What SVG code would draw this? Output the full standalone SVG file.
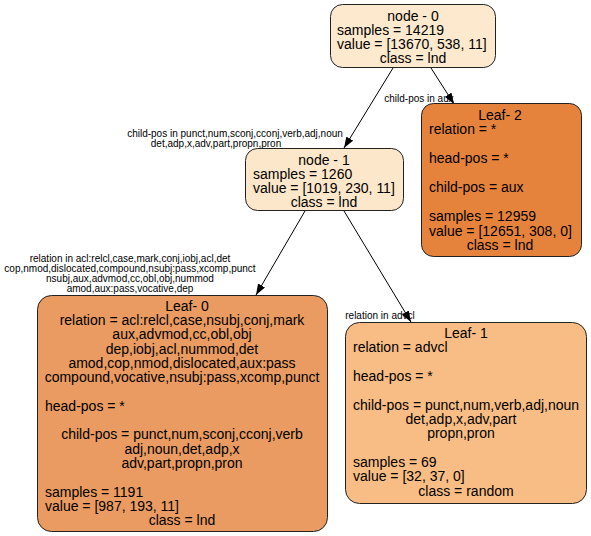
<svg xmlns="http://www.w3.org/2000/svg" width="591" height="536" viewBox="0 0 591 536">
  <style>
    .box { stroke: #222; stroke-width: 1; }
    .t { font-family: "Liberation Sans", Arial, Helvetica, sans-serif; font-size: 14px; fill: #000; }
    .c { text-anchor: middle; }
    .el { font-family: "Liberation Sans", Arial, Helvetica, sans-serif; font-size: 10px; fill: #000; text-anchor: middle; }
    .edge { stroke: #000; stroke-width: 1; fill: none; marker-end: url(#arrow); }
  </style>
  <defs>
    <marker id="arrow" markerUnits="userSpaceOnUse" markerWidth="11" markerHeight="8" refX="11" refY="4" orient="auto">
      <path d="M0,0 L11,4 L0,8 z" fill="#000"/>
    </marker>
  </defs>
  <rect width="591" height="536" fill="#fff"/>

  <g id="edges">
    <text class="el" x="235" y="137">child-pos in punct,num,sconj,cconj,verb,adj,noun</text>
    <text class="el" x="216" y="147">det,adp,x,adv,part,propn,pron</text>
    <line class="edge" x1="393" y1="68" x2="344" y2="148"/>

    <text class="el" x="419" y="102">child-pos in aux</text>
    <line class="edge" x1="431" y1="68" x2="454" y2="104"/>

    <text class="el" x="130" y="262">relation in acl:relcl,case,mark,conj,iobj,acl,det</text>
    <text class="el" x="130" y="272">cop,nmod,dislocated,compound,nsubj:pass,xcomp,punct</text>
    <text class="el" x="130" y="282">nsubj,aux,advmod,cc,obl,obj,nummod</text>
    <text class="el" x="130" y="292">amod,aux:pass,vocative,dep</text>
    <line class="edge" x1="305" y1="211" x2="256" y2="295"/>

    <text class="el" x="380" y="319">relation in advcl</text>
    <line class="edge" x1="344" y1="211" x2="411" y2="322"/>
  </g>

  <g id="node-0">
    <rect class="box" x="330.5" y="4.5" width="165" height="63" rx="12" fill="#fde9cd"/>
    <text class="t c" x="413" y="21">node - 0</text>
    <text class="t" x="337" y="35">samples = 14219</text>
    <text class="t" x="337" y="49">value = [13670, 538, 11]</text>
    <text class="t c" x="413" y="63">class = lnd</text>
  </g>

  <g id="node-1">
    <rect class="box" x="245.5" y="148.5" width="158" height="62" rx="12" fill="#fde7ca"/>
    <text class="t c" x="324" y="165">node - 1</text>
    <text class="t" x="253" y="179">samples = 1260</text>
    <text class="t" x="253" y="193">value = [1019, 230, 11]</text>
    <text class="t c" x="324" y="207">class = lnd</text>
  </g>

  <g id="leaf-2">
    <rect class="box" x="421.5" y="103.5" width="160" height="153" rx="12" fill="#e5833d"/>
    <text class="t c" x="500" y="120">Leaf- 2</text>
    <text class="t" x="429" y="134">relation = *</text>
    <text class="t" x="429" y="163">head-pos = *</text>
    <text class="t" x="429" y="192">child-pos = aux</text>
    <text class="t" x="429" y="221">samples = 12959</text>
    <text class="t" x="429" y="236">value = [12651, 308, 0]</text>
    <text class="t c" x="500" y="250">class = lnd</text>
  </g>

  <g id="leaf-0">
    <rect class="box" x="37.5" y="295.5" width="290" height="236" rx="14" fill="#e99b61"/>
    <text class="t c" x="187" y="311">Leaf- 0</text>
    <text class="t c" x="182" y="325">relation = acl:relcl,case,nsubj,conj,mark</text>
    <text class="t c" x="182" y="339">aux,advmod,cc,obl,obj</text>
    <text class="t c" x="182" y="354">dep,iobj,acl,nummod,det</text>
    <text class="t c" x="182" y="368">amod,cop,nmod,dislocated,aux:pass</text>
    <text class="t c" x="182" y="382">compound,vocative,nsubj:pass,xcomp,punct</text>
    <text class="t" x="45" y="411">head-pos = *</text>
    <text class="t c" x="182" y="439">child-pos = punct,num,sconj,cconj,verb</text>
    <text class="t c" x="182" y="454">adj,noun,det,adp,x</text>
    <text class="t c" x="182" y="468">adv,part,propn,pron</text>
    <text class="t" x="45" y="497">samples = 1191</text>
    <text class="t" x="45" y="511">value = [987, 193, 11]</text>
    <text class="t c" x="182" y="525">class = lnd</text>
  </g>

  <g id="leaf-1">
    <rect class="box" x="345.5" y="322.5" width="241" height="181" rx="14" fill="#f8bd85"/>
    <text class="t c" x="466" y="338">Leaf- 1</text>
    <text class="t" x="353" y="352">relation = advcl</text>
    <text class="t" x="353" y="381">head-pos = *</text>
    <text class="t" x="353" y="410">child-pos = punct,num,verb,adj,noun</text>
    <text class="t c" x="461" y="424">det,adp,x,adv,part</text>
    <text class="t c" x="461" y="438">propn,pron</text>
    <text class="t" x="353" y="467">samples = 69</text>
    <text class="t" x="353" y="481">value = [32, 37, 0]</text>
    <text class="t c" x="466" y="496">class = random</text>
  </g>
</svg>
